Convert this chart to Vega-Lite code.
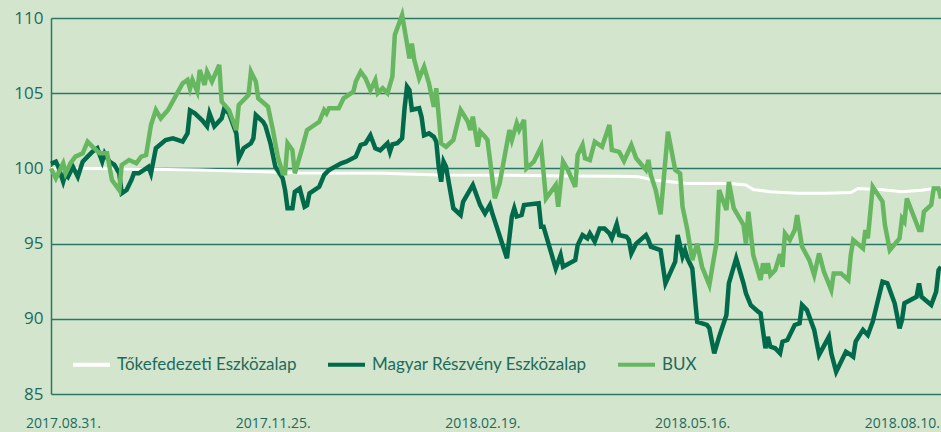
{
"$schema": "https://vega.github.io/schema/vega-lite/v6.json",
"width": 890, "height": 376,
"autosize": {"type": "none"},
"padding": {"left": 51, "top": 18, "right": 0, "bottom": 38},
"background": "#d3e5cd",
"config": {"view": {"stroke": null}, "font": "Open Sans"},
"datasets": {
"tok": [
{"date":"2017-08-31","value":100.0},{"date":"2017-09-20","value":100.0},{"date":"2017-10-31","value":99.9},{"date":"2017-11-21","value":99.8},{"date":"2017-12-11","value":99.7},{"date":"2018-01-14","value":99.67},{"date":"2018-02-06","value":99.56},{"date":"2018-03-04","value":99.55},{"date":"2018-03-31","value":99.5},{"date":"2018-04-21","value":99.47},{"date":"2018-04-29","value":99.45},{"date":"2018-05-05","value":99.23},{"date":"2018-05-19","value":99.0},{"date":"2018-06-05","value":99.0},{"date":"2018-06-12","value":98.9},{"date":"2018-06-15","value":98.6},{"date":"2018-06-22","value":98.45},{"date":"2018-07-03","value":98.34},{"date":"2018-07-15","value":98.35},{"date":"2018-07-25","value":98.4},{"date":"2018-07-28","value":98.67},{"date":"2018-08-06","value":98.6},{"date":"2018-08-15","value":98.45},{"date":"2018-08-23","value":98.55},{"date":"2018-08-28","value":98.67},{"date":"2018-08-31","value":98.67}
],
"mag": [
{"date":"2017-08-31","value":100.3},{"date":"2017-09-02","value":100.45},{"date":"2017-09-03","value":100.11},{"date":"2017-09-05","value":99.12},{"date":"2017-09-06","value":99.67},{"date":"2017-09-07","value":99.45},{"date":"2017-09-09","value":100.11},{"date":"2017-09-11","value":99.45},{"date":"2017-09-13","value":100.45},{"date":"2017-09-15","value":100.78},{"date":"2017-09-17","value":101.11},{"date":"2017-09-19","value":101.34},{"date":"2017-09-21","value":100.45},{"date":"2017-09-22","value":101.0},{"date":"2017-09-24","value":100.45},{"date":"2017-09-26","value":100.23},{"date":"2017-09-28","value":99.67},{"date":"2017-09-29","value":98.34},{"date":"2017-10-01","value":98.56},{"date":"2017-10-03","value":99.23},{"date":"2017-10-04","value":99.67},{"date":"2017-10-06","value":99.67},{"date":"2017-10-08","value":99.89},{"date":"2017-10-10","value":100.11},{"date":"2017-10-11","value":99.67},{"date":"2017-10-13","value":101.34},{"date":"2017-10-17","value":101.89},{"date":"2017-10-20","value":102.0},{"date":"2017-10-24","value":101.78},{"date":"2017-10-26","value":102.33},{"date":"2017-10-27","value":103.85},{"date":"2017-10-29","value":103.66},{"date":"2017-11-01","value":103.2},{"date":"2017-11-03","value":102.8},{"date":"2017-11-04","value":103.66},{"date":"2017-11-06","value":102.8},{"date":"2017-11-09","value":103.33},{"date":"2017-11-10","value":103.95},{"date":"2017-11-12","value":103.66},{"date":"2017-11-15","value":102.33},{"date":"2017-11-16","value":100.67},{"date":"2017-11-18","value":101.34},{"date":"2017-11-21","value":101.67},{"date":"2017-11-22","value":102.0},{"date":"2017-11-23","value":103.55},{"date":"2017-11-26","value":103.1},{"date":"2017-11-27","value":102.8},{"date":"2017-11-29","value":101.67},{"date":"2017-12-01","value":100.11},{"date":"2017-12-04","value":99.34},{"date":"2017-12-05","value":98.56},{"date":"2017-12-06","value":97.35},{"date":"2017-12-08","value":97.35},{"date":"2017-12-09","value":98.45},{"date":"2017-12-11","value":98.67},{"date":"2017-12-13","value":97.45},{"date":"2017-12-14","value":97.55},{"date":"2017-12-15","value":98.34},{"date":"2017-12-19","value":98.78},{"date":"2017-12-21","value":99.56},{"date":"2017-12-23","value":99.89},{"date":"2017-12-28","value":100.34},{"date":"2017-12-30","value":100.45},{"date":"2018-01-03","value":100.78},{"date":"2018-01-05","value":101.56},{"date":"2018-01-07","value":101.67},{"date":"2018-01-09","value":102.2},{"date":"2018-01-11","value":101.34},{"date":"2018-01-13","value":101.2},{"date":"2018-01-16","value":101.67},{"date":"2018-01-17","value":101.1},{"date":"2018-01-18","value":101.6},{"date":"2018-01-20","value":101.67},{"date":"2018-01-22","value":102.0},{"date":"2018-01-23","value":104.0},{"date":"2018-01-24","value":105.43},{"date":"2018-01-25","value":105.2},{"date":"2018-01-26","value":103.9},{"date":"2018-01-29","value":104.0},{"date":"2018-01-30","value":103.4},{"date":"2018-01-31","value":102.2},{"date":"2018-02-02","value":102.33},{"date":"2018-02-04","value":102.1},{"date":"2018-02-05","value":101.78},{"date":"2018-02-06","value":100.11},{"date":"2018-02-07","value":99.12},{"date":"2018-02-08","value":100.45},{"date":"2018-02-09","value":100.11},{"date":"2018-02-12","value":97.35},{"date":"2018-02-15","value":96.9},{"date":"2018-02-16","value":97.78},{"date":"2018-02-20","value":98.9},{"date":"2018-02-23","value":97.57},{"date":"2018-02-25","value":97.0},{"date":"2018-02-27","value":97.57},{"date":"2018-02-28","value":97.01},{"date":"2018-03-06","value":94.02},{"date":"2018-03-08","value":96.8},{"date":"2018-03-09","value":97.35},{"date":"2018-03-10","value":96.8},{"date":"2018-03-12","value":96.9},{"date":"2018-03-13","value":97.57},{"date":"2018-03-19","value":97.68},{"date":"2018-03-20","value":96.12},{"date":"2018-03-21","value":96.12},{"date":"2018-03-22","value":95.57},{"date":"2018-03-26","value":93.35},{"date":"2018-03-28","value":94.24},{"date":"2018-03-29","value":93.46},{"date":"2018-04-03","value":93.9},{"date":"2018-04-04","value":94.9},{"date":"2018-04-06","value":95.57},{"date":"2018-04-08","value":95.35},{"date":"2018-04-09","value":95.68},{"date":"2018-04-11","value":95.13},{"date":"2018-04-13","value":96.0},{"date":"2018-04-15","value":96.0},{"date":"2018-04-17","value":95.68},{"date":"2018-04-18","value":95.35},{"date":"2018-04-20","value":96.3},{"date":"2018-04-21","value":95.57},{"date":"2018-04-24","value":95.46},{"date":"2018-04-25","value":95.24},{"date":"2018-04-26","value":94.35},{"date":"2018-04-28","value":95.0},{"date":"2018-05-02","value":95.57},{"date":"2018-05-03","value":95.24},{"date":"2018-05-04","value":94.8},{"date":"2018-05-08","value":94.57},{"date":"2018-05-10","value":92.36},{"date":"2018-05-14","value":93.8},{"date":"2018-05-15","value":95.57},{"date":"2018-05-17","value":94.13},{"date":"2018-05-18","value":94.57},{"date":"2018-05-19","value":94.02},{"date":"2018-05-21","value":93.35},{"date":"2018-05-23","value":89.8},{"date":"2018-05-27","value":89.59},{"date":"2018-05-28","value":89.37},{"date":"2018-05-30","value":87.7},{"date":"2018-06-01","value":88.8},{"date":"2018-06-04","value":90.25},{"date":"2018-06-05","value":92.36},{"date":"2018-06-08","value":94.02},{"date":"2018-06-11","value":92.36},{"date":"2018-06-12","value":91.7},{"date":"2018-06-14","value":90.9},{"date":"2018-06-17","value":90.47},{"date":"2018-06-18","value":90.36},{"date":"2018-06-20","value":88.04},{"date":"2018-06-21","value":88.8},{"date":"2018-06-22","value":88.15},{"date":"2018-06-24","value":88.04},{"date":"2018-06-26","value":87.7},{"date":"2018-06-27","value":88.48},{"date":"2018-06-29","value":88.59},{"date":"2018-07-02","value":89.59},{"date":"2018-07-04","value":89.7},{"date":"2018-07-05","value":90.92},{"date":"2018-07-07","value":90.58},{"date":"2018-07-10","value":89.26},{"date":"2018-07-12","value":87.6},{"date":"2018-07-16","value":88.8},{"date":"2018-07-17","value":87.7},{"date":"2018-07-19","value":86.48},{"date":"2018-07-23","value":87.81},{"date":"2018-07-25","value":87.6},{"date":"2018-07-26","value":87.48},{"date":"2018-07-27","value":88.48},{"date":"2018-07-30","value":89.26},{"date":"2018-08-01","value":88.92},{"date":"2018-08-03","value":89.81},{"date":"2018-08-07","value":92.47},{"date":"2018-08-09","value":92.36},{"date":"2018-08-12","value":91.03},{"date":"2018-08-14","value":89.37},{"date":"2018-08-15","value":89.92},{"date":"2018-08-16","value":91.03},{"date":"2018-08-21","value":91.47},{"date":"2018-08-22","value":92.36},{"date":"2018-08-23","value":91.47},{"date":"2018-08-27","value":90.92},{"date":"2018-08-29","value":91.8},{"date":"2018-08-30","value":93.24},{"date":"2018-08-31","value":93.46}
],
"bux": [
{"date":"2017-08-31","value":100.0},{"date":"2017-09-02","value":99.34},{"date":"2017-09-03","value":99.67},{"date":"2017-09-05","value":100.34},{"date":"2017-09-06","value":99.67},{"date":"2017-09-08","value":100.34},{"date":"2017-09-10","value":100.78},{"date":"2017-09-13","value":101.0},{"date":"2017-09-15","value":101.78},{"date":"2017-09-17","value":101.45},{"date":"2017-09-20","value":101.0},{"date":"2017-09-23","value":101.0},{"date":"2017-09-25","value":99.23},{"date":"2017-09-28","value":98.56},{"date":"2017-09-29","value":100.23},{"date":"2017-10-02","value":100.56},{"date":"2017-10-05","value":100.34},{"date":"2017-10-07","value":100.78},{"date":"2017-10-09","value":100.89},{"date":"2017-10-11","value":102.89},{"date":"2017-10-13","value":103.88},{"date":"2017-10-15","value":103.33},{"date":"2017-10-18","value":103.88},{"date":"2017-10-21","value":104.77},{"date":"2017-10-24","value":105.66},{"date":"2017-10-26","value":105.88},{"date":"2017-10-27","value":105.3},{"date":"2017-10-28","value":105.88},{"date":"2017-10-30","value":105.1},{"date":"2017-10-31","value":106.54},{"date":"2017-11-02","value":105.55},{"date":"2017-11-03","value":106.43},{"date":"2017-11-05","value":105.77},{"date":"2017-11-08","value":106.88},{"date":"2017-11-09","value":104.44},{"date":"2017-11-12","value":103.88},{"date":"2017-11-15","value":102.55},{"date":"2017-11-16","value":104.22},{"date":"2017-11-20","value":104.88},{"date":"2017-11-21","value":106.43},{"date":"2017-11-23","value":105.77},{"date":"2017-11-24","value":104.66},{"date":"2017-11-28","value":104.1},{"date":"2017-11-30","value":102.55},{"date":"2017-12-02","value":100.78},{"date":"2017-12-04","value":99.67},{"date":"2017-12-05","value":99.67},{"date":"2017-12-06","value":101.67},{"date":"2017-12-08","value":101.22},{"date":"2017-12-09","value":99.67},{"date":"2017-12-12","value":101.34},{"date":"2017-12-14","value":102.55},{"date":"2017-12-16","value":102.77},{"date":"2017-12-19","value":103.1},{"date":"2017-12-21","value":103.88},{"date":"2017-12-22","value":103.66},{"date":"2017-12-23","value":104.0},{"date":"2017-12-27","value":104.0},{"date":"2017-12-29","value":104.66},{"date":"2018-01-02","value":105.1},{"date":"2018-01-03","value":105.77},{"date":"2018-01-05","value":106.43},{"date":"2018-01-07","value":105.99},{"date":"2018-01-09","value":105.2},{"date":"2018-01-11","value":105.88},{"date":"2018-01-12","value":105.0},{"date":"2018-01-14","value":105.33},{"date":"2018-01-16","value":105.0},{"date":"2018-01-18","value":106.1},{"date":"2018-01-19","value":108.87},{"date":"2018-01-22","value":110.2},{"date":"2018-01-24","value":108.3},{"date":"2018-01-25","value":107.32},{"date":"2018-01-26","value":108.3},{"date":"2018-01-27","value":107.2},{"date":"2018-01-29","value":105.99},{"date":"2018-01-31","value":106.76},{"date":"2018-02-02","value":105.66},{"date":"2018-02-04","value":104.1},{"date":"2018-02-05","value":105.33},{"date":"2018-02-07","value":101.67},{"date":"2018-02-09","value":101.44},{"date":"2018-02-12","value":101.89},{"date":"2018-02-15","value":103.88},{"date":"2018-02-18","value":103.1},{"date":"2018-02-19","value":102.55},{"date":"2018-02-20","value":103.44},{"date":"2018-02-22","value":101.44},{"date":"2018-02-23","value":102.44},{"date":"2018-02-25","value":102.1},{"date":"2018-02-26","value":101.89},{"date":"2018-03-01","value":98.01},{"date":"2018-03-03","value":99.0},{"date":"2018-03-07","value":102.55},{"date":"2018-03-08","value":101.89},{"date":"2018-03-10","value":103.0},{"date":"2018-03-11","value":102.55},{"date":"2018-03-13","value":103.22},{"date":"2018-03-14","value":100.0},{"date":"2018-03-17","value":100.45},{"date":"2018-03-20","value":101.44},{"date":"2018-03-22","value":98.0},{"date":"2018-03-26","value":98.9},{"date":"2018-03-27","value":97.45},{"date":"2018-03-29","value":100.45},{"date":"2018-03-31","value":99.89},{"date":"2018-04-03","value":98.78},{"date":"2018-04-04","value":100.9},{"date":"2018-04-06","value":101.56},{"date":"2018-04-07","value":100.67},{"date":"2018-04-09","value":100.56},{"date":"2018-04-11","value":101.78},{"date":"2018-04-14","value":101.44},{"date":"2018-04-17","value":102.89},{"date":"2018-04-18","value":101.22},{"date":"2018-04-21","value":101.1},{"date":"2018-04-23","value":100.5},{"date":"2018-04-26","value":101.56},{"date":"2018-04-28","value":100.67},{"date":"2018-05-02","value":99.9},{"date":"2018-05-03","value":100.56},{"date":"2018-05-04","value":99.56},{"date":"2018-05-06","value":98.56},{"date":"2018-05-08","value":96.95},{"date":"2018-05-11","value":102.44},{"date":"2018-05-14","value":99.9},{"date":"2018-05-16","value":99.67},{"date":"2018-05-17","value":97.45},{"date":"2018-05-19","value":95.9},{"date":"2018-05-21","value":93.9},{"date":"2018-05-23","value":95.0},{"date":"2018-05-25","value":93.46},{"date":"2018-05-28","value":92.25},{"date":"2018-05-31","value":95.13},{"date":"2018-06-01","value":98.56},{"date":"2018-06-04","value":97.23},{"date":"2018-06-05","value":99.1},{"date":"2018-06-07","value":97.35},{"date":"2018-06-11","value":96.24},{"date":"2018-06-12","value":95.0},{"date":"2018-06-13","value":97.12},{"date":"2018-06-15","value":94.24},{"date":"2018-06-18","value":92.58},{"date":"2018-06-19","value":93.69},{"date":"2018-06-20","value":93.02},{"date":"2018-06-21","value":93.69},{"date":"2018-06-22","value":92.9},{"date":"2018-06-24","value":93.24},{"date":"2018-06-26","value":94.3},{"date":"2018-06-27","value":93.46},{"date":"2018-06-28","value":95.68},{"date":"2018-06-30","value":95.24},{"date":"2018-07-02","value":95.9},{"date":"2018-07-03","value":96.9},{"date":"2018-07-05","value":94.8},{"date":"2018-07-08","value":93.9},{"date":"2018-07-10","value":92.9},{"date":"2018-07-12","value":94.35},{"date":"2018-07-14","value":93.13},{"date":"2018-07-17","value":91.92},{"date":"2018-07-18","value":93.02},{"date":"2018-07-21","value":93.02},{"date":"2018-07-24","value":92.58},{"date":"2018-07-25","value":94.24},{"date":"2018-07-26","value":95.24},{"date":"2018-07-30","value":94.69},{"date":"2018-07-31","value":95.9},{"date":"2018-08-01","value":95.35},{"date":"2018-08-03","value":98.78},{"date":"2018-08-07","value":97.79},{"date":"2018-08-08","value":96.24},{"date":"2018-08-10","value":94.57},{"date":"2018-08-14","value":95.35},{"date":"2018-08-15","value":96.68},{"date":"2018-08-16","value":96.46},{"date":"2018-08-17","value":98.0},{"date":"2018-08-22","value":95.9},{"date":"2018-08-23","value":95.9},{"date":"2018-08-24","value":97.12},{"date":"2018-08-27","value":97.57},{"date":"2018-08-28","value":98.67},{"date":"2018-08-30","value":98.67},{"date":"2018-08-31","value":98.0}
]
},
"encoding": {
"x": {"field": "date", "type": "temporal",
 "scale": {"type": "utc", "domain": [{"year":2017,"month":8,"date":31,"utc":true},{"year":2018,"month":8,"date":31,"utc":true}]},
 "axis": {"title": null, "values": [{"year":2017,"month":8,"date":31,"utc":true},{"year":2017,"month":11,"date":25,"utc":true},{"year":2018,"month":2,"date":19,"utc":true},{"year":2018,"month":5,"date":16,"utc":true},{"year":2018,"month":8,"date":10,"utc":true}],
  "labelExpr": "utcFormat(datum.value, '%Y.%m.%d.')", "domain": false, "ticks": false, "grid": false,
  "labelFontSize": 14, "labelColor": "#1d6b5b", "labelPadding": 22, "labelOffset": 12, "labelFlush": false, "labelOverlap": false, "labelBound": false}},
"y": {"field": "value", "type": "quantitative",
 "scale": {"domain": [85, 110], "nice": false, "zero": false},
 "axis": {"title": null, "values": [85,90,95,100,105,110], "grid": true, "gridColor": "#2b7766", "gridWidth": 1.5, "domain": true, "domainColor": "#2b7766", "domainWidth": 1.5, "ticks": false, "labelFontSize": 17, "labelColor": "#1d6b5b", "labelPadding": 8}}
},
"layer": [
{"data": {"name": "tok"}, "mark": {"type": "line", "strokeWidth": 3},
 "encoding": {"color": {"datum": "Tőkefedezeti Eszközalap", "type": "nominal",
  "scale": {"domain": ["Tőkefedezeti Eszközalap", "Magyar Részvény Eszközalap", "BUX"], "range": ["#ffffff", "#006a4a", "#66b760"]},
  "legend": {"title": null, "orient": "none", "legendX": 20, "legendY": 326, "direction": "horizontal", "symbolType": "stroke", "symbolStrokeWidth": 4, "symbolSize": 1369, "labelFont": "Lato", "labelFontSize": 17, "labelLimit": 500, "labelColor": "#1d6b5b", "columnPadding": 23, "labelOffset": 5}}}},
{"data": {"name": "mag"}, "mark": {"type": "line", "strokeWidth": 4.5},
 "encoding": {"color": {"datum": "Magyar Részvény Eszközalap", "type": "nominal"}}},
{"data": {"name": "bux"}, "mark": {"type": "line", "strokeWidth": 4.5},
 "encoding": {"color": {"datum": "BUX", "type": "nominal"}}}
]
}
